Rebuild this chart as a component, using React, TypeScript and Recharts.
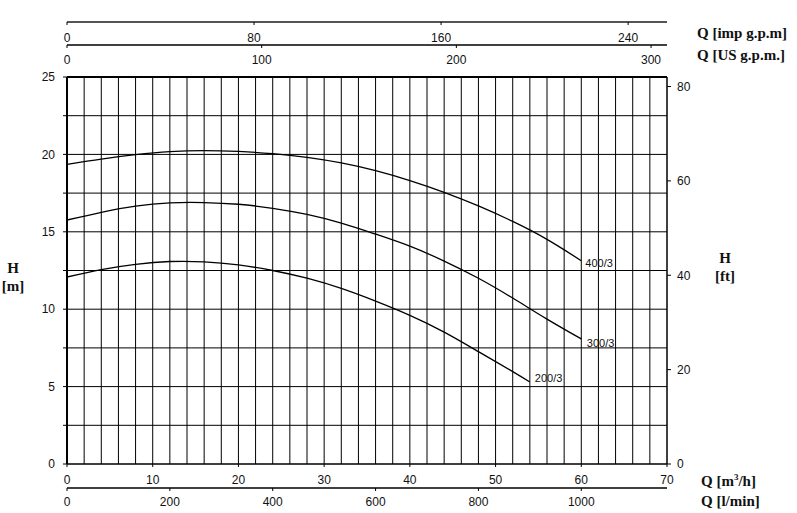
import { ComposedChart, Line, XAxis, YAxis, ReferenceLine } from 'recharts'

// flow in m3/h, head in m
const q400 = [0, 4, 8, 12, 16, 20, 24, 28, 32, 36, 40, 44, 48, 52, 56, 60]
const h400 = [19.36, 19.7, 19.98, 20.18, 20.25, 20.19, 20.05, 19.81, 19.45, 18.95, 18.31, 17.55, 16.67, 15.67, 14.51, 13.13]
const q300 = [0, 4, 8, 12, 16, 20, 24, 28, 32, 36, 40, 44, 48, 52, 56, 60]
const h300 = [15.76, 16.26, 16.66, 16.87, 16.89, 16.78, 16.52, 16.12, 15.56, 14.85, 14.07, 13.11, 12.0, 10.72, 9.36, 8.08]
const q200 = [0, 4, 8, 12, 16, 20, 24, 28, 32, 36, 40, 44, 48, 52, 54]
const h200 = [12.08, 12.56, 12.9, 13.08, 13.06, 12.86, 12.5, 12.0, 11.34, 10.52, 9.6, 8.52, 7.26, 5.97, 5.3]

const m3Ticks = [0, 10, 20, 30, 40, 50, 60, 70]
const lminTicks = [0, 200, 400, 600, 800, 1000]
const usTicks = [0, 100, 200, 300]
const impTicks = [0, 80, 160, 240]
const mTicks = [0, 2.5, 5, 7.5, 10, 12.5, 15, 17.5, 20, 22.5, 25]
const ftTicks = [0, 20, 40, 60, 80]
const gridQ = [2, 4, 6, 8, 10, 12, 14, 16, 18, 20, 22, 24, 26, 28, 30, 32, 34, 36, 38, 40, 42, 44, 46, 48, 50, 52, 54, 56, 58, 60, 62, 64, 66, 68]
const gridH = [2.5, 5, 7.5, 10, 12.5, 15, 17.5, 20, 22.5]

const Q_MAX = 70
const H_TOP = 28.553 // plot area runs up under the top axes
const M3H_PER_IMP = 0.2727654
const M3H_PER_US = 0.2271247
const FT_PER_M = 3.28084

const toRows = (qs: number[], hs: number[]) => qs.map((q, i) => ({ q, h: hs[i] }))

// unit conversion table for the secondary flow axes
const convRows = m3Ticks.map((q) => ({
  q,
  lmin: (q * 1000) / 60,
  us: q / M3H_PER_US,
  imp: q / M3H_PER_IMP,
}))

const series = [
  { name: '400/3', data: toRows(q400, h400), dx: 4, dy: 2.5 },
  { name: '300/3', data: toRows(q300, h300), dx: 5.5, dy: 4.5 },
  { name: '200/3', data: toRows(q200, h200), dx: 5, dy: -3.5 },
]

const tickFont = { fontSize: 12, fill: '#111', fontFamily: 'Liberation Sans, Arial, sans-serif' }
const titleStyle: React.CSSProperties = {
  position: 'absolute',
  fontFamily: '"Liberation Serif", serif',
  fontWeight: 'bold',
  fontSize: 15,
  color: '#111',
  whiteSpace: 'nowrap',
  lineHeight: '18px',
}

export default function App() {
  return (
    <div style={{ position: 'absolute', left: 0, top: 0, width: 797, height: 513, background: '#fff' }}>
      <ComposedChart width={797} height={513} data={convRows} margin={{ top: 22, right: 70, bottom: 0, left: 0 }}>
        <XAxis
          xAxisId="a_m3"
          type="number"
          dataKey="q"
          domain={[0, Q_MAX]}
          ticks={m3Ticks}
          interval={0}
          allowDataOverflow
          height={24}
          tickSize={3}
          tickMargin={8}
          axisLine={{ stroke: '#000', strokeWidth: 1.5 }}
          tickLine={{ stroke: '#000' }}
          tick={tickFont}
        />
        <XAxis
          xAxisId="b_lmin"
          type="number"
          dataKey="lmin"
          domain={[0, (Q_MAX * 1000) / 60]}
          ticks={lminTicks}
          interval={0}
          allowDataOverflow
          height={25}
          tickSize={3}
          tickMargin={6}
          axisLine={{ stroke: '#000', strokeWidth: 1.5 }}
          tickLine={{ stroke: '#000' }}
          tick={tickFont}
        />
        <XAxis
          xAxisId="a_imp"
          orientation="top"
          mirror
          type="number"
          dataKey="imp"
          domain={[0, Q_MAX / M3H_PER_IMP]}
          ticks={impTicks}
          interval={0}
          allowDataOverflow
          height={23}
          tickSize={3}
          tickMargin={8}
          axisLine={{ stroke: '#555', strokeWidth: 2 }}
          tickLine={{ stroke: '#000' }}
          tick={tickFont}
        />
        <XAxis
          xAxisId="b_us"
          orientation="top"
          mirror
          type="number"
          dataKey="us"
          domain={[0, Q_MAX / M3H_PER_US]}
          ticks={usTicks}
          interval={0}
          allowDataOverflow
          height={23}
          tickSize={3}
          tickMargin={7}
          axisLine={{ stroke: '#000', strokeWidth: 1.5 }}
          tickLine={{ stroke: '#000' }}
          tick={tickFont}
        />
        <YAxis
          yAxisId="m"
          type="number"
          domain={[0, H_TOP]}
          ticks={mTicks}
          interval={0}
          allowDataOverflow
          width={67}
          tickSize={4}
          tickMargin={8}
          axisLine={false}
          tickLine={{ stroke: '#000' }}
          tick={tickFont}
          tickFormatter={(v: number) => (v % 5 === 0 ? String(v) : '')}
        />
        <YAxis
          yAxisId="ft"
          orientation="right"
          type="number"
          domain={[0, H_TOP * FT_PER_M]}
          ticks={ftTicks}
          interval={0}
          allowDataOverflow
          width={60}
          tickSize={4}
          tickMargin={6}
          axisLine={false}
          tickLine={{ stroke: '#000' }}
          tick={tickFont}
        />

        {gridQ.map((q) => (
          <ReferenceLine
            key={'v' + q}
            xAxisId="a_m3"
            yAxisId="m"
            segment={[{ x: q, y: 0 }, { x: q, y: 25 }]}
            stroke="#000"
            strokeWidth={1}
          />
        ))}
        {gridH.map((h) => (
          <ReferenceLine key={'h' + h} xAxisId="a_m3" yAxisId="m" y={h} stroke="#000" strokeWidth={1} />
        ))}
        <ReferenceLine xAxisId="a_m3" yAxisId="m" y={25} stroke="#000" strokeWidth={2} />
        <ReferenceLine xAxisId="a_m3" yAxisId="m" segment={[{ x: 0, y: 0 }, { x: 0, y: 25 }]} stroke="#000" strokeWidth={2} />
        <ReferenceLine xAxisId="a_m3" yAxisId="m" segment={[{ x: Q_MAX, y: 0 }, { x: Q_MAX, y: 25 }]} stroke="#000" strokeWidth={1.5} />

        {series.map((s) => (
          <Line
            key={s.name}
            xAxisId="a_m3"
            yAxisId="m"
            data={s.data}
            dataKey="h"
            type="natural"
            stroke="#000"
            strokeWidth={1.3}
            dot={false}
            isAnimationActive={false}
            label={(p: any) =>
              p.index === s.data.length - 1 ? (
                <text
                  x={p.x + s.dx}
                  y={p.y + s.dy}
                  dominantBaseline="central"
                  fontSize={11}
                  fill="#111"
                  fontFamily="Liberation Sans, Arial, sans-serif"
                >
                  {s.name}
                </text>
              ) : (
                <g />
              )
            }
          />
        ))}
      </ComposedChart>

      <div style={{ ...titleStyle, left: 697, top: 24 }}>Q [imp g.p.m]</div>
      <div style={{ ...titleStyle, left: 697, top: 46 }}>Q [US g.p.m.]</div>
      <div style={{ ...titleStyle, left: 701, top: 472 }}>
        Q [m<sup style={{ fontSize: 9, lineHeight: 0 }}>3</sup>/h]
      </div>
      <div style={{ ...titleStyle, left: 701, top: 492 }}>Q [l/min]</div>
      <div style={{ ...titleStyle, left: 0, width: 26, top: 259, textAlign: 'center' }}>H</div>
      <div style={{ ...titleStyle, left: 0, width: 26, top: 277, textAlign: 'center' }}>[m]</div>
      <div style={{ ...titleStyle, left: 712, width: 26, top: 249, textAlign: 'center' }}>H</div>
      <div style={{ ...titleStyle, left: 712, width: 26, top: 267, textAlign: 'center' }}>[ft]</div>
    </div>
  )
}
